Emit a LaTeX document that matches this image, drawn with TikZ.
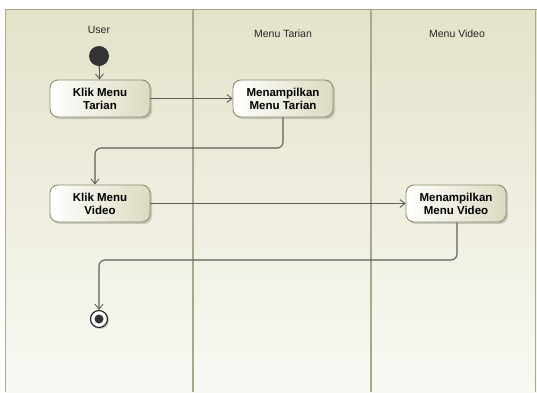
\documentclass[tikz,border=0pt]{standalone}
\usepackage{fontspec}
\setmainfont{Liberation Sans}
\usetikzlibrary{arrows.meta,shadows,calc}
\definecolor{laneTop}{HTML}{E4E2CA}
\definecolor{laneBot}{HTML}{F9F9F4}
\definecolor{laneLine}{HTML}{A8A88C}
\definecolor{boxEdge}{HTML}{8C8C6C}
\definecolor{boxDark}{HTML}{DCDAC0}
\definecolor{wire}{HTML}{5E5E56}
\tikzset{
  action/.style={draw=boxEdge, line width=0.9pt, rounded corners=8pt,
    minimum width=100pt, minimum height=37pt, inner sep=0pt,
    align=center, font=\fontsize{11.5}{13}\selectfont\bfseries,
    left color=white, right color=boxDark,
    drop shadow={shadow xshift=2pt, shadow yshift=-2pt, opacity=0.35, fill=gray}},
  lanetitle/.style={font=\fontsize{10.5}{12}\selectfont, text=black!85},
  flow/.style={draw=wire, line width=1.1pt, rounded corners=6pt,
    -{Straight Barb[length=5pt,width=8pt,line width=0.9pt]}},
  startnode/.style={circle, fill=black!80, minimum size=20pt, inner sep=0pt},
  endnode/.style={circle, draw=black!85, line width=1.2pt, fill=white,
    minimum size=17pt, inner sep=0pt,
    drop shadow={shadow xshift=1.5pt, shadow yshift=-1.5pt, opacity=0.35, fill=gray}},
  endcore/.style={circle, fill=black!80, minimum size=9pt, inner sep=0pt},
}
\begin{document}
\begin{tikzpicture}[x=1pt,y=-1pt]
  \useasboundingbox (0,0) rectangle (537,392);
  \fill[white] (0,0) rectangle (537,392);
  % swimlane background
  \shade[top color=laneTop, bottom color=laneBot] (5,9) rectangle (537,392);
  \draw[laneLine, line width=1pt] (5,392) -- (5,9) -- (537,9);
  \draw[laneLine, line width=2pt] (193,9) -- (193,392);
  \draw[laneLine, line width=2pt] (371,9) -- (371,392);
  \draw[laneLine, line width=1pt] (535.5,9) -- (535.5,392);
  % lane titles
  \node[lanetitle] (tUser) at (99,30) {User};
  \node[lanetitle] (tTarian) at (283,34) {Menu Tarian};
  \node[lanetitle] (tVideo) at (457,34) {Menu Video};
  % activities
  \node[startnode] (start) at (99,56) {};
  \node[action] (klikT) at (100,98.5) {Klik Menu\\Tarian};
  \node[action] (showT) at (283,98.5) {Menampilkan\\Menu Tarian};
  \node[action] (klikV) at (100,203.5) {Klik Menu\\Video};
  \node[action] (showV) at (456,203.5) {Menampilkan\\Menu Video};
  \node[endnode] (stop) at (99,319) {};
  \node[endcore] (stopcore) at (stop) {};
  % control flow
  \draw[flow] (start) -- (klikT);
  \draw[flow] (klikT) -- (showT);
  \draw[flow] (showT.south) |- (95,148) -- (klikV.north -| 95,0);
  \draw[flow] (klikV) -- (showV);
  \draw[flow] (showV.south -| 457,0) |- (99,260) -- (stop.north);
\end{tikzpicture}
\end{document}
